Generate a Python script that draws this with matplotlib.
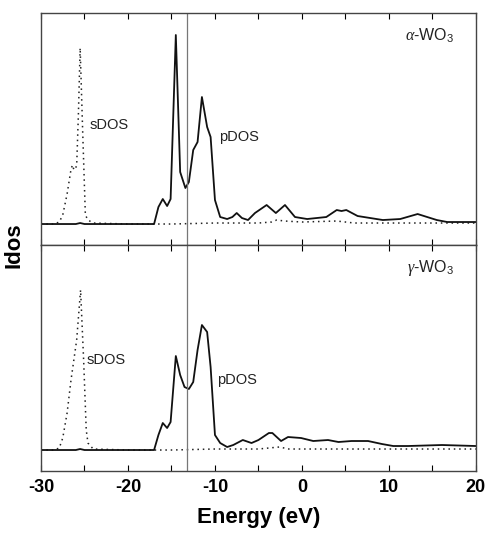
import numpy as np
import matplotlib
matplotlib.use("Agg")
import matplotlib.pyplot as plt
from matplotlib.ticker import MultipleLocator

plt.rcParams['font.family'] = ['Liberation Sans', 'DejaVu Sans']
plt.rcParams['axes.unicode_minus'] = False
plt.rcParams['mathtext.fontset'] = 'custom'
plt.rcParams['mathtext.rm'] = 'Liberation Sans'
plt.rcParams['mathtext.it'] = 'Liberation Serif:italic'

# alpha-WO3 (top panel)
a_s_e = [-30, -28.5, -27.9, -27.5, -27.0, -26.6, -26.4, -26.2, -25.9, -25.7, -25.5, -25.2, -24.9, -24.6, -24.0, -20, -15, -10, -5, -3.5, -2.9, -2, 0, 4.0, 6, 10, 15, 20]
a_s_v = [0, 0, 2, 9, 30, 52, 59, 54, 58, 110, 176, 90, 9, 4, 1, 0, 0, 1, 1, 2, 4, 3, 2, 3, 1, 1, 1, 1]
a_p_e = [-30, -26, -25.5, -25, -20, -17.0, -16.5, -16.0, -15.5, -15.1, -14.5, -14.0, -13.4, -13.0, -12.5, -12.0, -11.5, -10.9, -10.5, -10.0, -9.4, -8.6, -8.0, -7.5, -6.9, -6.2, -5.4, -4.06, -3.0, -1.95, -0.8, 0.6, 2.8, 4.0, 4.55, 5.1, 6.4, 9.3, 11.3, 13.3, 15.5, 16.7, 20]
a_p_v = [0, 0, 1, 0, 0, 0, 17, 25, 18, 25, 189, 52, 36, 42, 74, 82, 127, 97, 87, 24, 7, 5, 7, 11, 6, 4, 11, 19, 11, 19, 7, 5, 7, 14, 13, 14, 8, 4, 5, 10, 4, 2, 2]

# gamma-WO3 (bottom panel)
g_s_e = [-30, -28.5, -27.9, -27.5, -27.0, -26.55, -25.9, -25.45, -25.1, -24.8, -24.6, -24.0, -20, -15, -10, -5, -2.6, -1.5, 0, 5, 10, 15, 20]
g_s_v = [0, 0, 2, 12, 37, 70, 110, 160, 90, 20, 7, 1, 0, 0, 1, 1, 3, 1, 1, 1, 1, 1, 1]
g_p_e = [-30, -26, -25.5, -25, -20, -17.0, -16.5, -16.0, -15.5, -15.1, -14.5, -14.0, -13.5, -13.0, -12.5, -12.0, -11.5, -10.9, -10.5, -10.0, -9.4, -8.6, -7.9, -6.8, -5.8, -5.0, -3.8, -3.4, -2.4, -1.6, -0.1, 1.3, 3.0, 4.2, 5.7, 7.6, 9.2, 10.5, 12.2, 16.1, 20]
g_p_v = [0, 0, 1, 0, 0, 0, 15, 27, 22, 28, 94, 75, 63, 61, 68, 100, 125, 118, 83, 15, 7, 3, 5, 10, 7, 10, 17, 17, 9, 13, 12, 9, 10, 8, 9, 9, 6, 4, 4, 5, 4]

fermi = -13.2

fig = plt.figure(figsize=(4.87, 5.33), dpi=100)
ax1 = fig.add_axes([0.0842, 0.5403, 0.893, 0.4353])
ax2 = fig.add_axes([0.0842, 0.1163, 0.893, 0.4240])

panels = [
    (ax1, a_s_e, a_s_v, a_p_e, a_p_v, (-21, 211), r'$\mathit{\alpha}$-WO$_3$', (-24.4, 99), (-9.5, 87)),
    (ax2, g_s_e, g_s_v, g_p_e, g_p_v, (-21, 205), r'$\mathit{\gamma}$-WO$_3$', (-24.8, 90), (-9.8, 70)),
]

for ax, se, sv, pe, pv, ylim, name, spos, ppos in panels:
    ax.plot(se, sv, color='#222222', linestyle=(0, (1, 2.5)), linewidth=1.1)
    ax.plot(pe, pv, color='#111111', linewidth=1.3)
    ax.axvline(fermi, color='#777777', linewidth=0.9)
    ax.set_xlim(-30, 20)
    ax.set_ylim(*ylim)
    ax.set_yticks([])
    ax.xaxis.set_major_locator(MultipleLocator(10))
    ax.xaxis.set_minor_locator(MultipleLocator(5))
    ax.tick_params(axis='x', which='both', direction='in', top=True, length=4, width=0.8)
    ax.text(spos[0], spos[1], 'sDOS', fontsize=10.5, color='#222222', va='center')
    ax.text(ppos[0], ppos[1], 'pDOS', fontsize=10.5, color='#222222', va='center')
    ax.text(0.95, 0.9, name, transform=ax.transAxes, ha='right', va='center', fontsize=11.5, color='#222222')
    for sp in ax.spines.values():
        sp.set_color('#444444')
        sp.set_linewidth(1.0)

ax1.tick_params(axis='x', labelbottom=False)
ax2.tick_params(axis='x', labelsize=13, pad=6)
for lab in ax2.get_xticklabels():
    lab.set_fontweight('bold')
ax2.set_xlabel('Energy (eV)', fontsize=16, fontweight='bold', labelpad=8)
fig.text(0.028, 0.54, 'Idos', rotation=90, fontsize=16, fontweight='bold', ha='center', va='center')

fig.savefig('out.png', dpi=100)
